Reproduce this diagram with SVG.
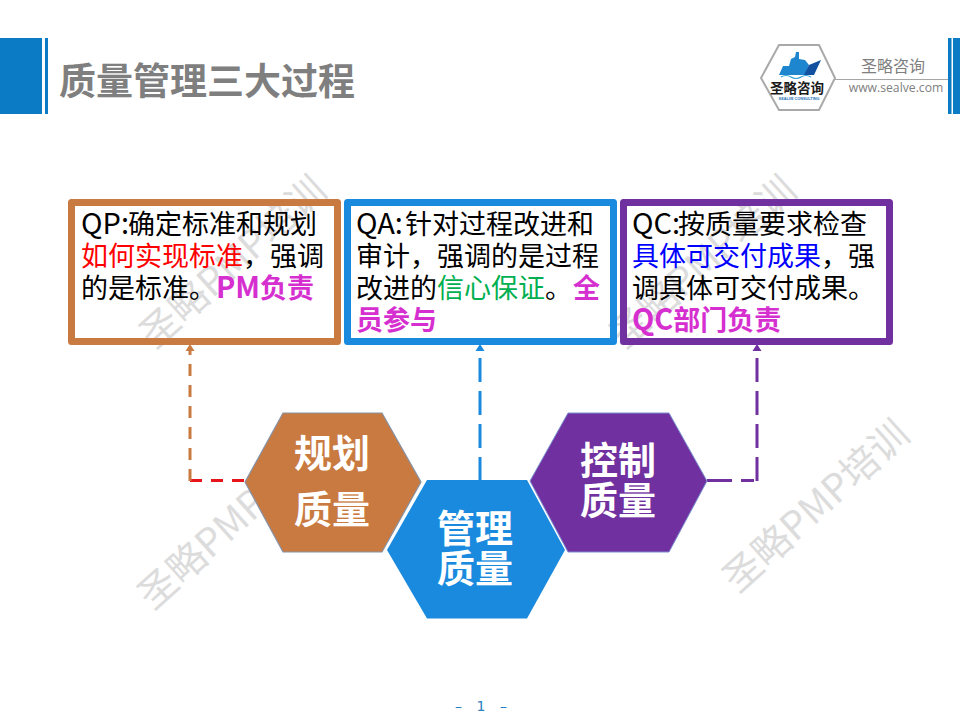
<svg xmlns="http://www.w3.org/2000/svg" width="960" height="720" viewBox="0 0 960 720">
<style>
text{font-family:"Noto Sans CJK SC","Liberation Sans",sans-serif}
.wm{font-size:38.500px;fill:#dcdcdc;text-anchor:middle}
.body{font-size:27px;fill:#000}
.lat{font-size:29px}
.em{font-weight:700;fill:#d62fd0}
.hexlabel{font-size:38px;font-weight:700;fill:#fff;text-anchor:middle}
.box{fill:none;stroke-width:7;stroke-linejoin:round}
.conn{fill:none;stroke-width:3}
.short{stroke-dasharray:12 9}
.long{stroke-dasharray:24 9}
.bar{fill:#0a7bc4}
</style>
<defs>
<marker id="aO" markerUnits="userSpaceOnUse" markerWidth="9" markerHeight="7" refX="4.500" refY="7" orient="0" overflow="visible"><path d="M0 7L4.500 0L9 7Z" fill="#c97a40"/></marker>
<marker id="aB" markerUnits="userSpaceOnUse" markerWidth="9" markerHeight="7" refX="4.500" refY="7" orient="0" overflow="visible"><path d="M0 7L4.500 0L9 7Z" fill="#1a8ade"/></marker>
<marker id="aP" markerUnits="userSpaceOnUse" markerWidth="9" markerHeight="7" refX="4.500" refY="7" orient="0" overflow="visible"><path d="M0 7L4.500 0L9 7Z" fill="#70309f"/></marker>
</defs>
<g id="watermarks">
<text class="wm" transform="translate(242,272) rotate(-42)">圣略PMP培训</text>
<text class="wm" transform="translate(240,533) rotate(-42)">圣略PMP培训</text>
<text class="wm" transform="translate(712,272) rotate(-42)">圣略PMP培训</text>
<text class="wm" transform="translate(825,516) rotate(-42)">圣略PMP培训</text>
</g>
<g id="header">
<rect class="bar" x="0" y="38" width="42" height="76"/>
<rect class="bar" x="45" y="38" width="3" height="76"/>
<text x="59" y="95" font-size="37" font-weight="700" fill="#7f7f7f">质量管理三大过程</text>
<rect class="bar" x="948" y="38" width="3.500" height="76"/>
<rect class="bar" x="953" y="38" width="7" height="76"/>
<line x1="835" y1="79.500" x2="948" y2="79.500" stroke="#a6a6a6" stroke-width="1"/>
<text x="893" y="72" font-size="16" fill="#7f7f7f" text-anchor="middle">圣略咨询</text>
<text x="896" y="92" font-size="12.200" fill="#7f7f7f" text-anchor="middle" style="font-family:'Open Sans',sans-serif">www.sealve.com</text>
</g>
<g id="logo">
<polygon points="761,78 779,45 819,45 835,78 819,110 779,110" fill="#fff" stroke="#a9a9a9" stroke-width="2"/>
<path d="M779 75L783 66L789 66L791 59L795 57L796 52L799 52L799 59L805 60L809 65L805 75Z" fill="#1d86cf"/>
<path d="M804 75L809 65L821 60L814 75Z" fill="#12519f"/>
<path d="M781 77Q786 74 791 77T801 77T811 77" fill="none" stroke="#2a9fd8" stroke-width="1.200"/>
<text x="797" y="93" font-size="13.500" font-weight="700" fill="#1a1a1a" text-anchor="middle">圣略咨询</text>
<text x="799" y="99.500" font-size="3.800" font-weight="700" fill="#1a6fb8" text-anchor="middle" style="font-family:'Liberation Sans',sans-serif">SEALVE CONSULTING</text>
</g>
<g id="connectors">
<path class="conn short" d="M190 480.500H245" stroke="#e8141c"/>
<path class="conn short" d="M190 481V351" stroke="#c97a40" marker-end="url(#aO)"/>
<path class="conn long" d="M480 481V351" stroke="#1a8ade" marker-end="url(#aB)"/>
<path class="conn" stroke-dasharray="25 9 13 6" d="M707 480.500H757" stroke="#70309f"/>
<path class="conn long" d="M757 481V351" stroke="#70309f" marker-end="url(#aP)"/>
</g>
<g id="box-qp">
<rect class="box" x="71.500" y="202.500" width="266" height="139" stroke="#c97a40"/>
<text class="body" x="81" y="234"><tspan class="lat">QP:</tspan><tspan x="128">确定标准和规划</tspan></text>
<text class="body" x="81" y="266"><tspan fill="#ff0000">如何实现标准</tspan>，强调</text>
<text class="body" x="81" y="298">的是标准。<tspan class="em lat">PM</tspan><tspan class="em">负责</tspan></text>
</g>
<g id="box-qa">
<rect class="box" x="347.500" y="202.500" width="266" height="139" stroke="#1a8ade"/>
<text class="body" x="356" y="234"><tspan class="lat">QA:</tspan><tspan x="405">针对过程改进和</tspan></text>
<text class="body" x="356" y="266">审计，强调的是过程</text>
<text class="body" x="356" y="298">改进的<tspan fill="#00b050">信心保证</tspan>。<tspan class="em" x="573">全</tspan></text>
<text class="body em" x="356" y="330">员参与</text>
</g>
<g id="box-qc">
<rect class="box" x="623.500" y="202.500" width="266" height="139" stroke="#70309f"/>
<text class="body" x="632" y="234"><tspan class="lat">QC:</tspan><tspan x="678">按质量要求检查</tspan></text>
<text class="body" x="632" y="266"><tspan fill="#0000ff">具体可交付成果</tspan>，强</text>
<text class="body" x="632" y="298">调具体可交付成果。</text>
<text class="body em" x="632" y="330"><tspan class="lat">QC</tspan>部门负责</text>
</g>
<g id="hex-plan">
<polygon points="245,482 283,413 382,413 421,482 382,552 283,552" fill="#c97a40" stroke="#8592a6" stroke-width="1.200"/>
<text class="hexlabel" x="332" y="467">规划</text>
<text class="hexlabel" x="332" y="523">质量</text>
</g>
<g id="hex-manage">
<polygon points="387,550 427,480 527,480 565,550 527,618.500 427,618.500" fill="#1a8ade"/>
<text class="hexlabel" x="475" y="542">管理</text>
<text class="hexlabel" x="475" y="582">质量</text>
</g>
<g id="hex-control">
<polygon points="530,481 568,413 669,413 707,481 669,552 568,552" fill="#70309f" stroke="#7a8fd0" stroke-width="1"/>
<text class="hexlabel" x="618" y="474">控制</text>
<text class="hexlabel" x="618" y="514">质量</text>
</g>
<g id="page-number">
<text x="481" y="711" font-size="14" fill="#2a80c0" text-anchor="middle" word-spacing="10" style="font-family:'DejaVu Sans',sans-serif">– 1 –</text>
</g>
</svg>
